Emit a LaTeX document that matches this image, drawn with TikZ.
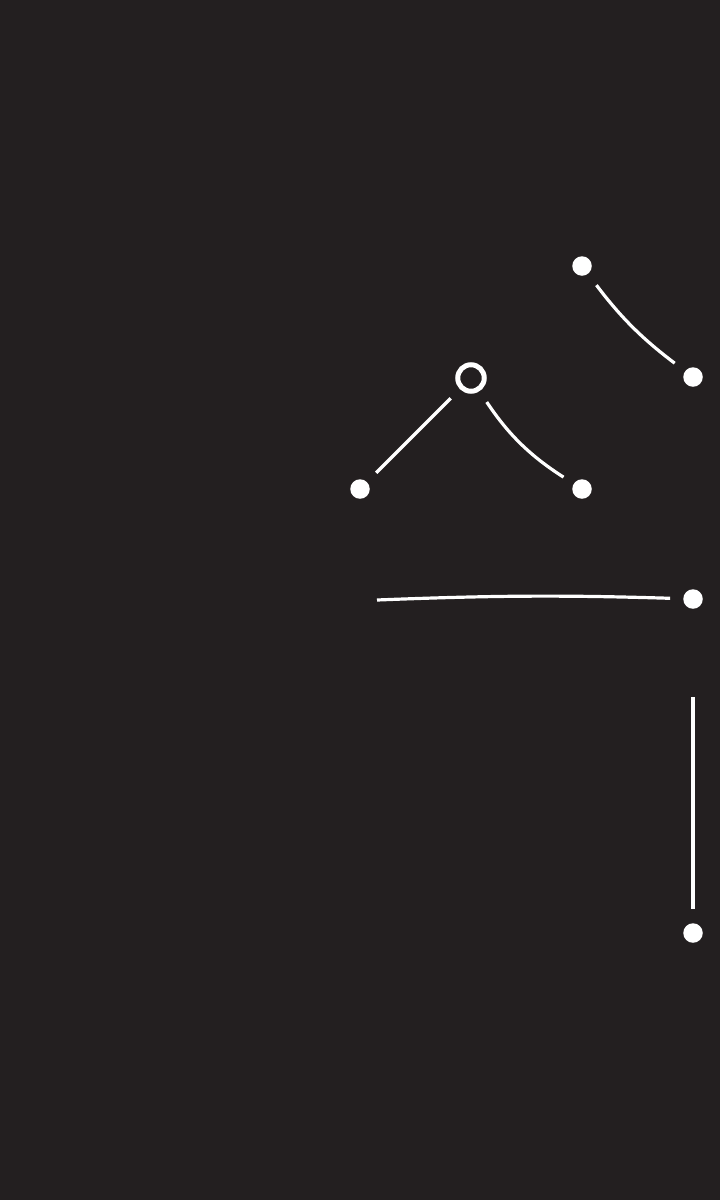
\documentclass[tikz,border=0pt]{standalone}
\definecolor{bg}{HTML}{231F20}
\tikzset{
  dot/.style={circle,fill=white,inner sep=0pt,minimum size=19.5pt},
  ring/.style={circle,draw=white,line width=5pt,inner sep=0pt,minimum size=26.5pt},
  link/.style={draw=white,line width=3.2pt},
}
\begin{document}
\begin{tikzpicture}[x=1pt,y=1pt]
\fill[bg] (0,0) rectangle (720,-1200);
\useasboundingbox (0,0) rectangle (720,-1200);
\node[dot] (A) at (582,-266) {};
\node[dot] (B) at (693,-377) {};
\node[ring] (C) at (471,-378) {};
\node[dot] (D) at (360,-489) {};
\node[dot] (E) at (582,-489) {};
\node[dot] (F) at (693,-599) {};
\node[dot] (G) at (693,-933) {};
\coordinate (H) at (377,-600);
\coordinate (I) at (693,-697);
\path[link,shorten <=14pt,shorten >=13pt] (A) to[bend right=8] (B);
\path[link,shorten <=13pt,shorten >=13pt] (C) -- (D);
\path[link,shorten <=13pt,shorten >=12pt] (C) to[bend right=12] (E);
\path[link,shorten >=13pt] (H) to[bend left=2] (F);
\path[link,shorten >=14pt] (I) -- (G);
\end{tikzpicture}
\end{document}
